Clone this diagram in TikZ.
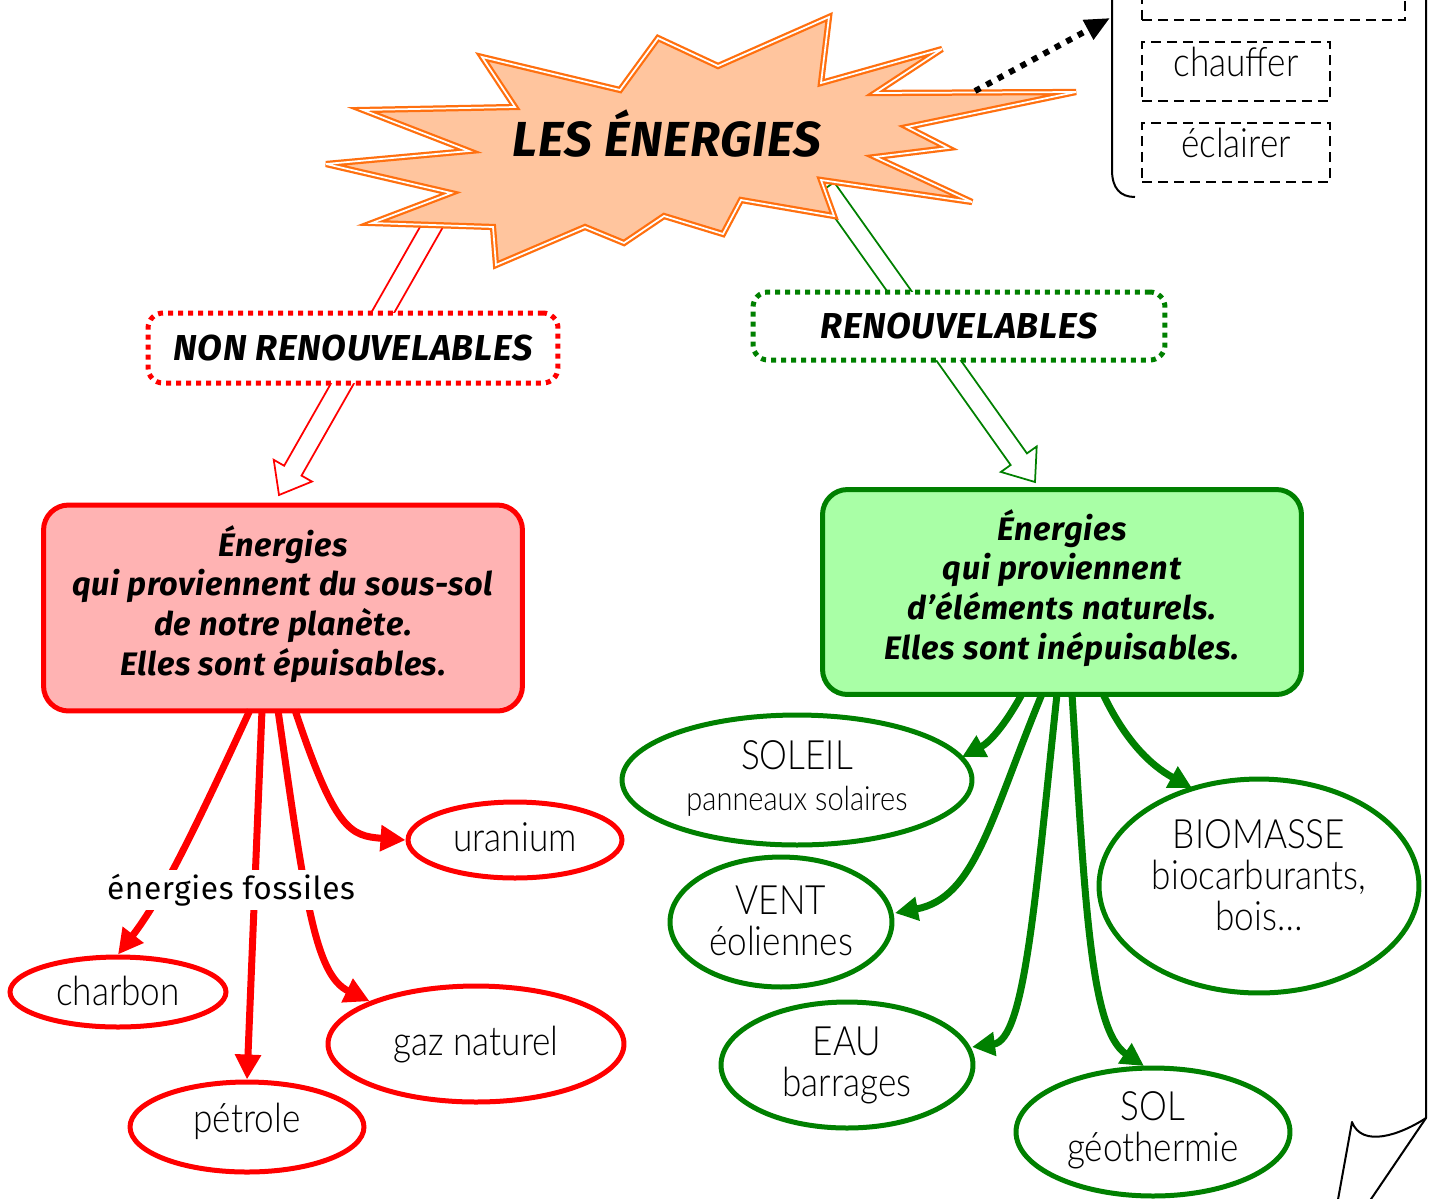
\documentclass[tikz,border=0pt]{standalone}
\usepackage{fontspec}
\setmainfont{Fira Sans}
\newfontfamily\thinf{Lato Light}[FakeStretch=0.87]
\newfontfamily\titlef{Fira Sans}[LetterSpace=2]
\usetikzlibrary{shapes.geometric,arrows.meta,calc}
\definecolor{starfill}{HTML}{FFC59E}
\definecolor{starline}{HTML}{FF7010}
\definecolor{pinkfill}{HTML}{FFB3B3}
\definecolor{greenfill}{HTML}{A9FFA6}
\definecolor{dgreen}{HTML}{008000}
\tikzset{
  titletxt/.style={font=\titlef\bfseries\itshape\fontsize{20.5}{24}\selectfont},
  boxtxt/.style={font=\titlef\bfseries\itshape\fontsize{18.5}{22.7}\selectfont, align=center},
  thintxt/.style={font=\thinf\fontsize{23}{23.3}\selectfont, align=center},
  dotbox/.style={draw, line width=0.1cm, dash pattern=on 0.1cm off 0.1cm, rounded corners=0.3cm, fill=white, inner sep=0pt},
  bigbox/.style={draw, line width=0.1cm, rounded corners=0.5cm, inner sep=0pt},
  redell/.style={ellipse, draw=red, line width=0.1cm, fill=white, inner sep=0pt, thintxt},
  greenell/.style={ellipse, draw=dgreen, line width=0.1cm, fill=white, inner sep=0pt, thintxt},
  redarr/.style={draw=red, line width=0.14cm, -{Triangle[length=0.5cm,width=0.5cm]}},
  greenarr/.style={draw=dgreen, line width=0.14cm, -{Triangle[length=0.46cm,width=0.46cm]}},
  dashbox/.style={draw, line width=0.045cm, dash pattern=on 0.2cm off 0.12cm, inner sep=0pt},
}
\newcommand\hollowarr[3]{%
  \coordinate (hb) at ($(#2)!0.56cm!(#1)$);
  \draw[#3, line width=0.035cm, fill=white, line join=miter]
    ($(#1)!0.2cm!90:(#2)$) -- ($(hb)!0.2cm!90:(#2)$) -- ($(hb)!0.44cm!90:(#2)$)
    -- (#2) -- ($(hb)!0.44cm!-90:(#2)$) -- ($(hb)!0.2cm!-90:(#2)$)
    -- ($(#1)!0.2cm!-90:(#2)$) -- cycle;
}
\begin{document}
\begin{tikzpicture}[x=0.02cm,y=-0.02cm]
\useasboundingbox (0,0) rectangle (1430,1198);
\fill[white] (0,0) rectangle (1430,1198);

% hollow arrows (under star and label boxes)
\coordinate (ra0) at (440,212);
\coordinate (ra1) at (279,495);
\coordinate (ga0) at (826,188);
\coordinate (ga1) at (1035,482);
\hollowarr{ra0}{ra1}{red}
\hollowarr{ga0}{ga1}{dgreen}

% star
\draw[fill=starfill, draw=starline, double=white, double distance=0.035cm, line width=0.045cm, line join=miter, miter limit=6]
  (326,164) -- (469,151) -- (363,110) -- (515,107) -- (482,57) -- (620,90) -- (658,38)
  -- (718,66) -- (829,17) -- (821,83) -- (942,49) -- (875,93) -- (1076,92) -- (907,127)
  -- (948,148) -- (875,157) -- (972,202) -- (821,180) -- (834,216) -- (741,200) -- (723,234)
  -- (664,216) -- (624,243) -- (585,227) -- (496,265) -- (493,227) -- (372,223) -- (451,193) -- cycle;
\node[font=\titlef\bfseries\itshape\fontsize{28}{32}\selectfont] (star) at (667,134) {LES ÉNERGIES};

% dotted arrow to the panel
\coordinate (dstart) at (975,91);
\coordinate (dend) at (1110,18);
\draw[line width=0.12cm, dash pattern=on 0.12cm off 0.14cm, -{Triangle[length=0.5cm,width=0.42cm]}] (dstart) -- (dend);

% panel with brace and dashed boxes
\draw[line width=0.04cm] (1112,-5) -- (1112,170) .. controls (1112,188) and (1120,197) .. (1135,197);
\node[dashbox, minimum width=5.26cm, minimum height=1.4cm] (b0) at (1273.5,-15) {};
\node[dashbox, minimum width=3.76cm, minimum height=1.18cm] (b1) at (1236,71.5) {};
\node[thintxt] (t1) at (1236,62) {chauffer};
\node[dashbox, minimum width=3.76cm, minimum height=1.18cm] (b2) at (1236,152.5) {};
\node[thintxt] (t2) at (1236,143) {éclairer};

% page edge with curl
\draw[line width=0.04cm, line join=round] (1426,-5) -- (1426,1118)
  .. controls (1400,1135) and (1362,1148) .. (1352,1122) -- (1337,1205);
\draw[line width=0.04cm] (1426,1118) -- (1367,1205);

% labels
\node[dotbox, draw=red, minimum width=8.2cm, minimum height=1.4cm] (nonren) at (353,348) {};
\node[titletxt] (nonrentxt) at (353,348) {NON RENOUVELABLES};
\node[dotbox, draw=dgreen, minimum width=8.24cm, minimum height=1.36cm] (ren) at (959,326) {};
\node[titletxt] (rentxt) at (959,326) {RENOUVELABLES};

% big boxes
\node[bigbox, draw=red, fill=pinkfill, minimum width=9.58cm, minimum height=4.12cm] (redbox) at (283,608) {};
\node[boxtxt] (redtxt) at (283,604)
  {Énergies\\qui proviennent du sous-sol\\de notre planète.\\Elles sont épuisables.};
\node[bigbox, draw=dgreen, fill=greenfill, minimum width=9.58cm, minimum height=4.1cm] (greenbox) at (1062,592) {};
\node[boxtxt] (greentxt) at (1062,588)
  {Énergies\\qui proviennent\\d’éléments naturels.\\Elles sont inépuisables.};

% red ellipses
\node[redell, minimum width=4.28cm, minimum height=1.52cm] (uranium) at (515,840) {};
\node[thintxt] at (515,837) {uranium};
\node[redell, minimum width=4.32cm, minimum height=1.4cm] (charbon) at (118,992) {};
\node[thintxt] at (118,991) {charbon};
\node[redell, minimum width=4.68cm, minimum height=1.8cm] (petrole) at (247,1127) {};
\node[thintxt] at (247,1121) {pétrole};
\node[redell, minimum width=5.92cm, minimum height=2.32cm] (gaz) at (476,1044) {};
\node[thintxt] at (476,1045) {gaz naturel};

% red arrows
\coordinate (r1) at (250,710);
\coordinate (r2) at (262,710);
\coordinate (r3) at (278,710);
\coordinate (r4) at (295,710);
\draw[redarr] (r1) .. controls (190,840) and (160,900) .. (charbon.north);
\draw[redarr] (r2) -- (petrole.north);
\draw[redarr] (r3) .. controls (305,900) and (315,975) .. (gaz.north west);
\draw[redarr] (r4) .. controls (335,830) and (350,836) .. (uranium.west);
\node[fill=white, inner sep=2pt, font=\titlef\fontsize{18}{22}\selectfont] (fossil) at (231,890) {énergies fossiles};

% green ellipses
\node[greenell, minimum width=7cm, minimum height=2.6cm] (soleil) at (797,780) {};
\node[thintxt] at (797,778) {SOLEIL\\{\fontsize{19}{22}\selectfont panneaux solaires}};
\node[greenell, minimum width=4.44cm, minimum height=2.6cm] (vent) at (781,922) {};
\node[thintxt] at (781,921) {VENT\\éoliennes};
\node[greenell, minimum width=5.04cm, minimum height=2.52cm] (eau) at (847,1065) {};
\node[thintxt] at (847,1065) {EAU\\barrages};
\node[greenell, minimum width=5.48cm, minimum height=2.56cm] (sol) at (1153,1132) {};
\node[thintxt] at (1153,1130) {SOL\\géothermie};
\node[greenell, minimum width=6.4cm, minimum height=4.28cm] (bio) at (1259,886) {};
\node[thintxt] at (1259,875) {BIOMASSE\\biocarburants,\\bois…};

% green arrows
\coordinate (g1) at (1022,694);
\coordinate (g2) at (1042,694);
\coordinate (g3) at (1057,694);
\coordinate (g4) at (1072,694);
\coordinate (g5) at (1103,694);
\coordinate (ge1) at (962,757);
\coordinate (ge2) at (895,913);
\coordinate (ge3) at (972,1047);
\coordinate (ge4) at (1144,1066);
\coordinate (ge5) at (1192,788);
\draw[greenarr] (g1) .. controls (1005,725) and (990,742) .. (ge1);
\draw[greenarr] (g2) .. controls (990,820) and (975,898) .. (ge2);
\draw[greenarr] (g3) .. controls (1035,900) and (1025,1040) .. (ge3);
\draw[greenarr] (g4) .. controls (1085,900) and (1090,1030) .. (ge4);
\draw[greenarr] (g5) .. controls (1125,740) and (1150,765) .. (ge5);
\end{tikzpicture}
\end{document}
